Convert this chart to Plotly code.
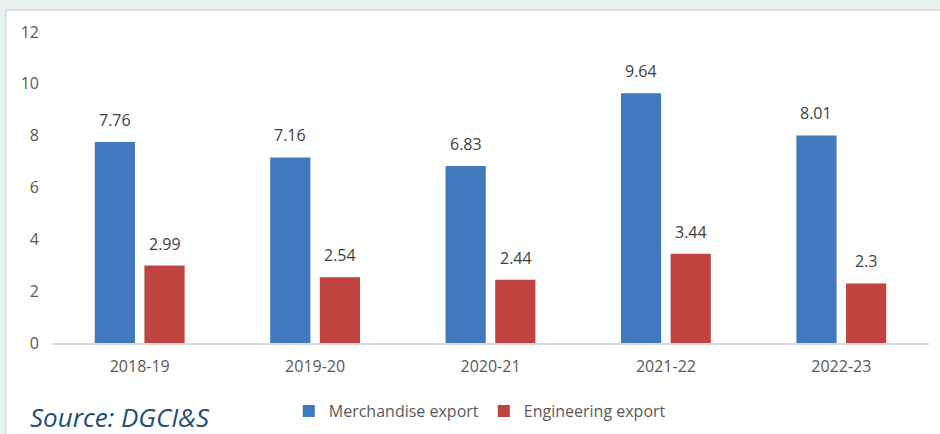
import plotly.graph_objects as go

categories = ["2018-19", "2019-20", "2020-21", "2021-22", "2022-23"]
merchandise = [7.76, 7.16, 6.83, 9.64, 8.01]
engineering = [2.99, 2.54, 2.44, 3.44, 2.3]
y_ticks = [0, 2, 4, 6, 8, 10, 12]

BLUE = "#4179BE"
RED = "#BF4440"
FONT = "Open Sans"

fig = go.Figure()
fig.add_trace(go.Bar(x=categories, y=merchandise, name="Merchandise export",
                     marker=dict(color=BLUE, line=dict(width=0))))
fig.add_trace(go.Bar(x=categories, y=engineering, name="Engineering export",
                     marker=dict(color=RED, line=dict(width=0))))

annotations = []
for c, v in zip(categories, merchandise):
    annotations.append(dict(x=c, y=v, xref="x", yref="y", text=str(v), showarrow=False,
                            xshift=-25, yshift=22, yanchor="middle",
                            font=dict(family=FONT, size=16, color="#404040")))
for c, v in zip(categories, engineering):
    annotations.append(dict(x=c, y=v, xref="x", yref="y", text=str(v), showarrow=False,
                            xshift=25, yshift=22, yanchor="middle",
                            font=dict(family=FONT, size=16, color="#404040")))
annotations.append(dict(x=-0.0275, y=-0.238, xref="paper", yref="paper",
                        text="<i>Source: DGCI&S</i>", showarrow=False,
                        xanchor="left", yanchor="middle",
                        font=dict(family=FONT, size=26, color="#1F4E79")))

fig.update_layout(
    width=940, height=434,
    margin=dict(l=52, r=11, t=32, b=91, autoexpand=False),
    paper_bgcolor="#E7F2F0",
    plot_bgcolor="rgba(0,0,0,0)",
    barmode="group",
    bargap=0.434,
    bargroupgap=0.19,
    font=dict(family=FONT, size=16, color="#595959"),
    legend=dict(orientation="h", x=0.27, xanchor="left", y=-0.219, yanchor="middle",
                font=dict(family=FONT, size=16, color="#595959"),
                bgcolor="rgba(0,0,0,0)", itemwidth=30, traceorder="normal"),
    shapes=[dict(type="rect", xref="paper", yref="paper",
                 x0=-0.0525, x1=1.2, y0=-0.5, y1=1.0707,
                 fillcolor="white", line=dict(color="#D9D9D9", width=1.5), layer="below")],
    annotations=annotations,
    xaxis=dict(showline=True, linecolor="#D9D9D9", linewidth=2, showgrid=False,
               ticks="", tickfont=dict(family=FONT, size=16, color="#595959"), ticklabelstandoff=8),
    yaxis=dict(range=[0, 12], tickvals=y_ticks, showgrid=False, zeroline=False,
               showline=False, ticks="", ticklabelstandoff=12,
               tickfont=dict(family=FONT, size=16, color="#595959")),
)

fig.write_html("out.html", config={"displayModeBar": False},
               post_script="document.body.style.margin='0';document.body.style.overflow='hidden';")
